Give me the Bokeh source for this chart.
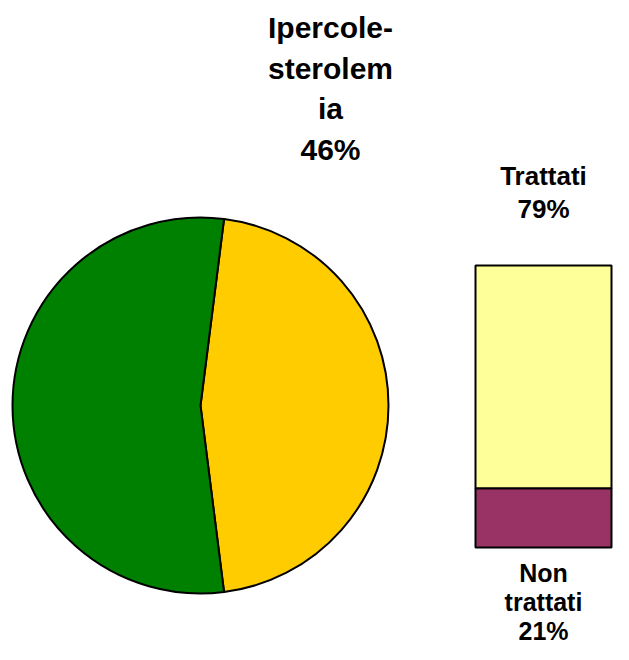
import math
from bokeh.plotting import figure
from bokeh.models import Range1d
from bokeh.embed import file_html
from bokeh.resources import INLINE
from bokeh.core.properties import value

# ---- data ----
pie_labels = ["Ipercole-\nsterolem\nia", "Altro"]
pie_values = [46, 54]
pie_colors = ["#FFCC00", "#008000"]

bar_labels = ["Non\ntrattati", "Trattati"]
bar_values = [21, 79]
bar_colors = ["#993366", "#FFFF99"]

# ---- layout ----
W, H = 613, 644
p = figure(width=W, height=H, x_range=Range1d(0, W), y_range=Range1d(660 - H, 660),
           output_backend="svg", toolbar_location=None, min_border=0)
p.axis.visible = False
p.grid.visible = False
p.outline_line_color = None
p.background_fill_color = "white"

FONT = value("Liberation Sans")

# pie (yellow slice centred on the right-hand horizontal)
cx, cy, r = 200, 255, 188
total = sum(pie_values)
frac0 = pie_values[0] / total
a = -math.pi * frac0
starts, ends = [], []
for v in pie_values:
    starts.append(a)
    a += 2 * math.pi * v / total
    ends.append(a)
p.wedge(x=cx, y=cy, radius=r, radius_units="screen",
        start_angle=starts, end_angle=ends,
        fill_color=pie_colors, line_color="black", line_width=2)

# bar of pie
bx0, bx1 = 475, 611
bbot, btop = 113, 395
bh = btop - bbot
btot = sum(bar_values)
bottoms, tops = [], []
acc = bbot
for v in bar_values:
    bottoms.append(acc)
    acc += bh * v / btot
    tops.append(acc)
p.quad(left=bx0, right=bx1, bottom=bottoms, top=tops,
       fill_color=bar_colors, line_color="black", line_width=2)

# labels
def draw_label(text, x, y_first, spacing, size):
    lines = text.split("\n")
    ys = [y_first - i * spacing for i in range(len(lines))]
    p.text(x=[x] * len(lines), y=ys, text=lines, text_font=FONT,
           text_font_style="bold", text_font_size=size,
           text_align="center", text_baseline="alphabetic", text_color="black")

TX = 10  # baseline correction
bxc = (bx0 + bx1) / 2
draw_label(f"{pie_labels[0]}\n{pie_values[0]}%", 330, 660 - 37 + TX, 40.7, "30px")
draw_label(f"{bar_labels[1]}\n{bar_values[1]}%", bxc, 660 - 185 + TX, 33, "26px")
draw_label(f"{bar_labels[0]}\n{bar_values[0]}%", bxc, 660 - 582 + TX, 29, "25px")

open("out.html", "w").write(file_html(p, INLINE))
